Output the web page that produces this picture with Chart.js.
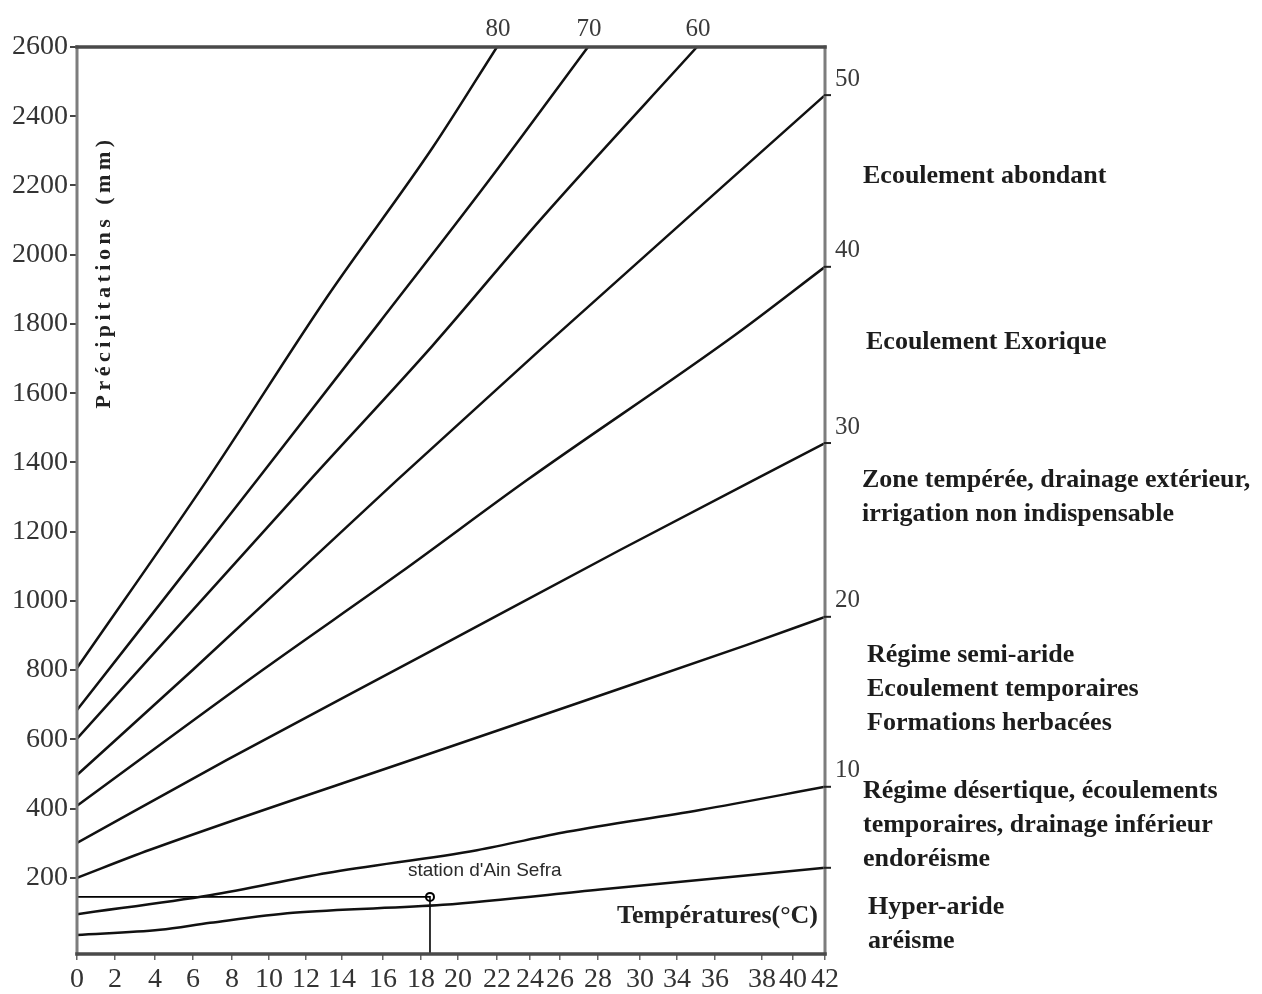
<!DOCTYPE html>
<html>
<head>
<meta charset="utf-8">
<script src="https://cdn.jsdelivr.net/npm/chart.js@4.4.1/dist/chart.umd.min.js"></script>
<style>
  html,body{margin:0;padding:0;background:#fff;}
  #wrap{width:1262px;height:994px;}
</style>
</head>
<body>
<div id="wrap"><canvas id="abaque" width="1262" height="994"></canvas></div>
<script>
// ── Data (x = position along the 0–42 °C span as drawn, y = precipitation mm) ──
const i80X=[0,7.30,14.04,19.99,23.58];
const i80Y=[806,1349,1878,2311,2600];
const i70X=[0,10.11,17.01,23.02,28.69];
const i70Y=[685,1349,1806,2207,2600];
const i60X=[0,13.08,19.99,26.00,34.81];
const i60Y=[602,1349,1739,2100,2600];
const i50X=[0,6.51,17.97,26.00,42];
const i50Y=[497,801,1349,1725,2461];
const i40X=[0,10.44,18.14,25.27,36.95,42];
const i40Y=[408,801,1081,1349,1768,1965];
const i30X=[0,8.42,19.26,30.49,42];
const i30Y=[301,541,838,1147,1456];
const i20X=[0,4.10,19.26,27.85,37.62,42];
const i20Y=[200,281,549,700,873,954];
const i10X=[0,7.47,14.04,22.46,27.51,34.98,42];
const i10Y=[95,150,214,280,333,396,463];
const i5X=[0,4.66,7.47,12.13,20.55,29.37,42];
const i5Y=[35,50,70,99,122,166,229];

const indexLabels=['80','70','60','50','40','30','20','10',''];

// station d'Ain Sefra
const stationName="station d'Ain Sefra";
const stationX=19.82, stationP=145;

// axes
const yTicks=[200,400,600,800,1000,1200,1400,1600,1800,2000,2200,2400,2600];
const xTickLabels=['0','2','4','6','8','10','12','14','16','18','20','22','24','26','28','30','34','36','38','40','42'];
const xTickAt=[0,2.13,4.38,6.51,8.70,10.78,12.86,14.88,17.18,19.31,21.39,23.58,25.43,27.12,29.25,31.61,33.69,35.82,38.46,40.20,42];

const zoneNotes=[
  ['Ecoulement abondant'],
  ['Ecoulement Exorique'],
  ['Zone tempérée, drainage extérieur,','irrigation non indispensable'],
  ['Régime semi-aride','Ecoulement temporaires','Formations herbacées'],
  ['Régime désertique, écoulements','temporaires, drainage inférieur','endoréisme'],
  ['Hyper-aride','aréisme']
];

// ── helpers ──
const zip=(xs,ys)=>xs.map((x,i)=>({x,y:ys[i]}));
const SERIF="'Liberation Serif','Times New Roman',serif";
const lineSets=[[i80X,i80Y],[i70X,i70Y],[i60X,i60Y],[i50X,i50Y],[i40X,i40Y],[i30X,i30Y],[i20X,i20Y],[i10X,i10Y],[i5X,i5Y]];

const datasets=lineSets.map(([xs,ys],k)=>({
  label:'I = '+(indexLabels[k]||'5'),
  data:zip(xs,ys),
  borderColor:'#111',borderWidth:2.5,pointRadius:0,
  cubicInterpolationMode:'monotone',fill:false
}));
// station guide lines + marker
datasets.push({
  label:'guide',data:[{x:0,y:stationP},{x:stationX,y:stationP},{x:stationX,y:-20}],
  borderColor:'#000',borderWidth:1.6,pointRadius:0,tension:0,fill:false
});
datasets.push({
  label:'station',data:[{x:stationX,y:stationP}],showLine:false,
  pointRadius:4,pointBackgroundColor:'#fff',pointBorderColor:'#000',pointBorderWidth:2
});

// ── annotations: frame, index numbers, zone notes, titles ──
const decorPlugin={id:'decor',afterDatasetsDraw(chart){
  const c=chart.ctx,a=chart.chartArea,sx=chart.scales.x,sy=chart.scales.y;
  c.save();
  // frame
  c.lineCap='square';
  c.strokeStyle='#7d7d7d';c.lineWidth=3;
  c.beginPath();c.moveTo(a.left,a.top);c.lineTo(a.left,a.bottom);c.moveTo(a.right,a.top);c.lineTo(a.right,a.bottom);c.stroke();
  c.strokeStyle='#4a4a4a';c.lineWidth=3.5;
  c.beginPath();c.moveTo(a.left,a.top);c.lineTo(a.right,a.top);c.moveTo(a.left,a.bottom);c.lineTo(a.right,a.bottom);c.stroke();

  // index numbers at line ends
  c.fillStyle='#3a3a3a';c.font='25px '+SERIF;c.textBaseline='middle';
  lineSets.forEach(([xs,ys],k)=>{
    const lbl=indexLabels[k];
    const px=sx.getPixelForValue(xs[xs.length-1]),py=sy.getPixelForValue(ys[ys.length-1]);
    if(xs[xs.length-1]>=42){
      c.strokeStyle='#222';c.lineWidth=2;
      c.beginPath();c.moveTo(a.right,py);c.lineTo(a.right+5,py);c.stroke();
      if(lbl){c.textAlign='left';c.fillText(lbl,a.right+10,py-16);}
    } else if(lbl){
      c.textAlign='center';c.fillText(lbl,px+1,a.top-18);
    }
  });

  // zone notes on the right
  const noteX=[863,866,862,867,863,868],noteY=[176,342,480,655,791,907];
  c.fillStyle='#1c1c1c';c.font='bold 26px '+SERIF;c.textAlign='left';c.textBaseline='middle';
  zoneNotes.forEach((lines,k)=>lines.forEach((t,j)=>c.fillText(t,noteX[k],noteY[k]+j*34)));

  // y title (vertical, letter-spaced)
  c.save();
  c.translate(a.left+27,272);
  c.rotate(-Math.PI/2);
  c.font='bold 22px '+SERIF;c.textAlign='center';c.textBaseline='middle';c.fillStyle='#222';
  if('letterSpacing' in c) c.letterSpacing='4.5px';
  c.fillText('Précipitations (mm)',0,0);
  c.restore();

  // x title inside plot
  c.font='bold 26px '+SERIF;c.textAlign='right';c.textBaseline='middle';c.fillStyle='#222';
  c.fillText('Températures(°C)',a.right-7,a.bottom-38);

  // station label
  const spx=sx.getPixelForValue(stationX),spy=sy.getPixelForValue(stationP);
  c.font="19px 'Liberation Sans',Arial,sans-serif";c.textAlign='left';c.fillStyle='#2a2a2a';
  c.fillText(stationName,spx-22,spy-26);
  c.restore();
}};

new Chart(document.getElementById('abaque').getContext('2d'),{
  type:'line',
  data:{datasets},
  plugins:[decorPlugin],
  options:{
    responsive:false,animation:false,
    layout:{padding:{top:47,right:437,left:0,bottom:0}},
    plugins:{legend:{display:false},tooltip:{enabled:false}},
    scales:{
      x:{type:'linear',min:0,max:42,
        afterFit:s=>{s.height=40;},
        afterBuildTicks:s=>{s.ticks=xTickAt.map(v=>({value:v}));},
        grid:{drawOnChartArea:false,tickLength:6,color:'#666',lineWidth:1.5},
        border:{display:false},
        ticks:{autoSkip:false,maxRotation:0,padding:3,color:'#333',font:{family:SERIF,size:28},
          callback:(v,i)=>xTickLabels[i]}},
      y:{type:'linear',min:-20,max:2600,
        afterFit:s=>{s.width=77;},
        afterBuildTicks:s=>{s.ticks=yTicks.map(v=>({value:v}));},
        grid:{drawOnChartArea:false,tickLength:7,color:'#444',lineWidth:2},
        border:{display:false},
        ticks:{autoSkip:false,padding:2,color:'#333',font:{family:SERIF,size:28},
          callback:v=>String(v)}}
    }
  }
});
</script>
</body>
</html>
